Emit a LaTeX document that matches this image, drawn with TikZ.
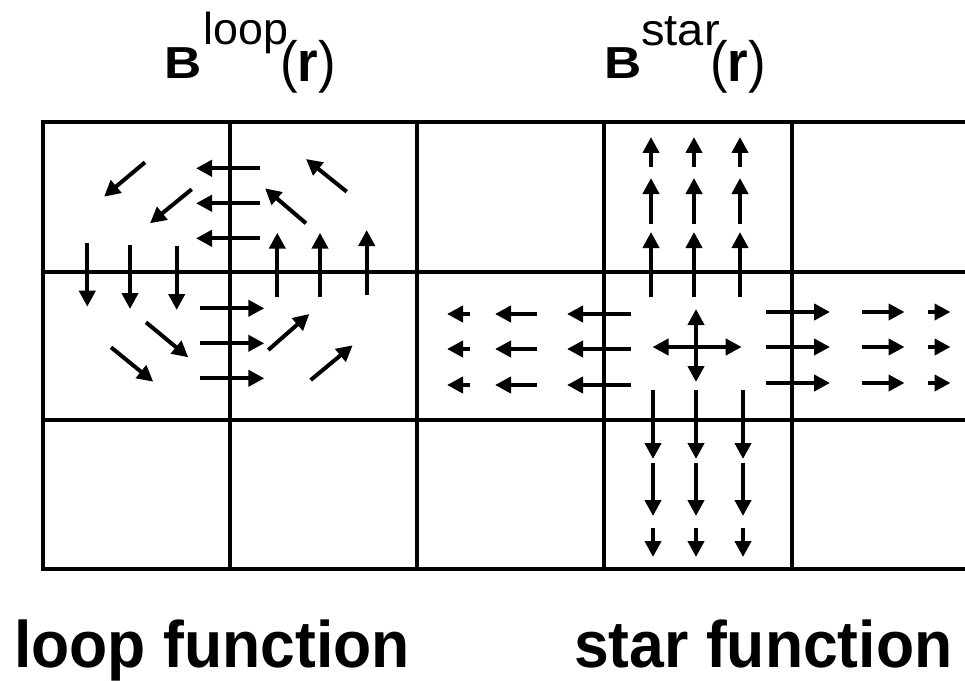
\documentclass[tikz,border=0pt]{standalone}
\usepackage{graphicx}
\usepackage{fontspec}
\setmainfont{Liberation Sans}
\usetikzlibrary{arrows.meta}
\begin{document}
\begin{tikzpicture}[x=1bp,y=-1bp,
  gridline/.style={line width=4bp},
  vec/.style={line width=4bp,-{Triangle[length=16bp,width=16bp]}},
  dvec/.style={line width=4bp,{Triangle[length=16bp,width=16bp]}-{Triangle[length=16bp,width=16bp]}},
  lbl/.style={inner sep=0pt,anchor=base west},
  bigB/.style={lbl,font=\fontsize{45}{45}\selectfont\bfseries},
  supr/.style={lbl,font=\fontsize{45}{45}\selectfont},
  arg/.style={lbl,font=\fontsize{57}{57}\selectfont},
  caption/.style={lbl,font=\fontsize{66}{66}\selectfont\bfseries}]
\useasboundingbox (0,0) rectangle (965,681);

% grid of cells, open to the right
\foreach \y in {122.5,271.5,420,569}
  \draw[gridline] (41,\y) -- (965,\y);
\foreach \x in {43,230,417,604,792}
  \draw[gridline] (\x,120.5) -- (\x,571);

% ---- loop field: circulation about the centre of the left 2x2 block
\draw[vec] (145,162.3) -- (104,196.7);
\draw[vec] (191.7,189.3) -- (150,223.3);
\foreach \y in {168.3,203.3,238.3}
  \draw[vec] (260,\y) -- (196,\y);
\draw[vec] (346.7,191.7) -- (306,159);
\draw[vec] (306,223.3) -- (265,188.3);
\draw[vec] (87.3,243.3) -- (87.3,306.7);
\draw[vec] (130,245) -- (130,309);
\draw[vec] (176.7,246) -- (176.7,310);
\draw[vec] (277.3,297.3) -- (277.3,232.7);
\draw[vec] (320,297.3) -- (320,232.7);
\draw[vec] (366.7,295) -- (366.7,230);
\foreach \y in {308.3,343.3,378.3}
  \draw[vec] (200,\y) -- (264.3,\y);
\draw[vec] (146,322.3) -- (188.3,357.3);
\draw[vec] (111,347.3) -- (153.3,381.7);
\draw[vec] (268.3,350) -- (309.3,314);
\draw[vec] (310.7,380) -- (352.7,345.3);

% ---- star field: outflow from the centre cell
\foreach \x in {651,694,740}{
  \draw[vec] (\x,167) -- (\x,137);
  \draw[vec] (\x,224) -- (\x,178);
  \draw[vec] (\x,297) -- (\x,232);
}
\foreach \y in {314,349,385}{
  \draw[vec] (470,\y) -- (447,\y);
  \draw[vec] (537,\y) -- (495,\y);
  \draw[vec] (631,\y) -- (567,\y);
}
\foreach \y in {312,347,383}{
  \draw[vec] (766,\y) -- (830,\y);
  \draw[vec] (862,\y) -- (904.5,\y);
  \draw[vec] (927.5,\y) -- (950.5,\y);
}
\foreach \x in {653,696,743}{
  \draw[vec] (\x,390) -- (\x,459);
  \draw[vec] (\x,463) -- (\x,516);
  \draw[vec] (\x,528) -- (\x,557);
}
\draw[dvec] (652.5,347) -- (741.7,347);
\draw[dvec] (696,309) -- (696,382);

% ---- headings
\node[bigB] (bl) at (164.5,79) {\scalebox{1.15}[1]{B}};
\node[supr] (sl) at (203.5,45) {loop};
\node[arg]  (al) at (280,82) {\scalebox{0.93}[1]{(\textbf{r})}};
\node[bigB] (bs) at (604.5,79) {\scalebox{1.15}[1]{B}};
\node[supr] (ss) at (641,46) {\scalebox{1.05}[1]{star}};
\node[arg]  (as) at (710,82) {\scalebox{0.93}[1]{(\textbf{r})}};

% ---- captions
\node[caption] (cl) at (14,667) {\scalebox{0.95}[1]{loop function}};
\node[caption] (cs) at (574,667) {\scalebox{0.95}[1]{star function}};
\end{tikzpicture}
\end{document}
